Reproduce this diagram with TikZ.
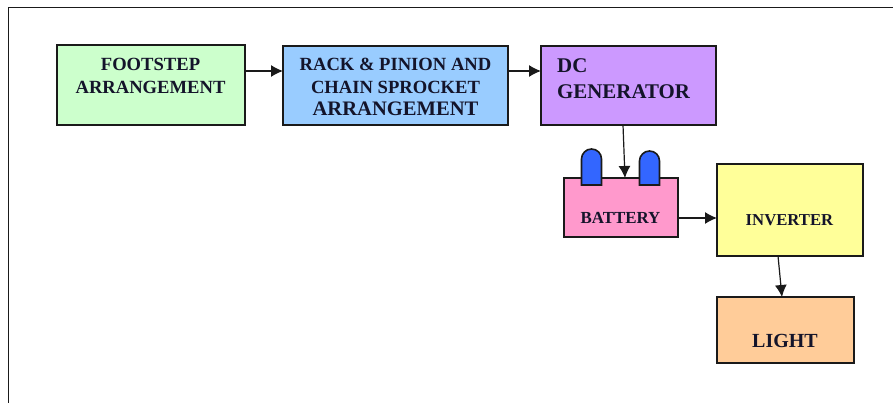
\documentclass[tikz,border=0pt]{standalone}
\usepackage{fontspec}
\setmainfont{Liberation Serif}
\usetikzlibrary{arrows.meta}
\definecolor{cgreen}{HTML}{CCFFCC}
\definecolor{cblue}{HTML}{99CCFF}
\definecolor{cpurple}{HTML}{CC99FF}
\definecolor{cpink}{HTML}{FF99CC}
\definecolor{cyellow}{HTML}{FFFF99}
\definecolor{corange}{HTML}{FFCC99}
\definecolor{cterm}{HTML}{3366FF}
\definecolor{ink}{HTML}{1A1A1A}
\definecolor{txtc}{HTML}{14142A}
\tikzset{
  x=1pt,y=-1pt,
  block/.style={draw=ink,line width=2pt,inner sep=0pt,outer sep=0pt,anchor=north west},
  lbl/.style={font=\bfseries,text=txtc,align=center,inner sep=0pt},
  arr/.style={draw=ink,line width=1.2pt,-{Latex[length=12pt,width=12pt]}},
  term/.style={draw=ink,line width=1.6pt,fill=cterm}
}
\begin{document}
\begin{tikzpicture}
\useasboundingbox (0,0) rectangle (893,403);
\draw[draw=ink,line width=1.3pt] (8.5,403) -- (8.5,7.5) -- (893,7.5);
\node[block,fill=cgreen,minimum width=188pt,minimum height=80pt] (foot) at (57,45) {};
\node[block,fill=cblue,minimum width=225pt,minimum height=79pt] (rack) at (283,46) {};
\node[block,fill=cpurple,minimum width=175pt,minimum height=79pt] (dc) at (541,46) {};
\node[block,fill=cpink,minimum width=114pt,minimum height=59pt] (batt) at (564,178) {};
\node[block,fill=cyellow,minimum width=146pt,minimum height=92pt] (inv) at (717,164) {};
\node[block,fill=corange,minimum width=137pt,minimum height=66pt] (light) at (717,297) {};
\draw[term] (581.5,185) -- (581.5,159) arc[start angle=180,end angle=360,radius=10] -- (601.5,185) -- cycle;
\draw[term] (639.5,185) -- (639.5,161) arc[start angle=180,end angle=360,radius=10] -- (659.5,185) -- cycle;
\node[lbl,font=\bfseries\fontsize{18.6}{22.5}\selectfont] (footT) at (150.5,76) {FOOTSTEP\\ARRANGEMENT};
\node[lbl,font=\bfseries\fontsize{18.6}{22.5}\selectfont] (rackT) at (395.5,87) {RACK \& PINION AND\\CHAIN SPROCKET\\\fontsize{20.6}{22.5}\selectfont ARRANGEMENT};
\node[lbl,font=\bfseries\fontsize{20.9}{26}\selectfont,align=left,anchor=west] (dcT) at (557,79) {DC\\GENERATOR};
\node[lbl,font=\bfseries\fontsize{16.9}{18}\selectfont] (battT) at (620.5,217.5) {BATTERY};
\node[lbl,font=\bfseries\fontsize{16.7}{18}\selectfont] (invT) at (789.5,220) {INVERTER};
\node[lbl,font=\bfseries\fontsize{20}{22}\selectfont] (lightT) at (785,341) {LIGHT};
\draw[arr] ([yshift=14pt]foot.east) -- ([yshift=14pt]rack.west |- foot.east);
\draw[arr] ([yshift=14.5pt]rack.east) -- ([yshift=14.5pt]dc.west |- rack.east);
\draw[arr] ([xshift=-5.5pt]dc.south) -- ([xshift=4pt]batt.north);
\draw[arr] ([yshift=-10.5pt]batt.east) -- ([yshift=-10.5pt]inv.west |- batt.east);
\draw[arr] ([xshift=-12pt]inv.south) -- ([xshift=-3.5pt]light.north);
\end{tikzpicture}
\end{document}
